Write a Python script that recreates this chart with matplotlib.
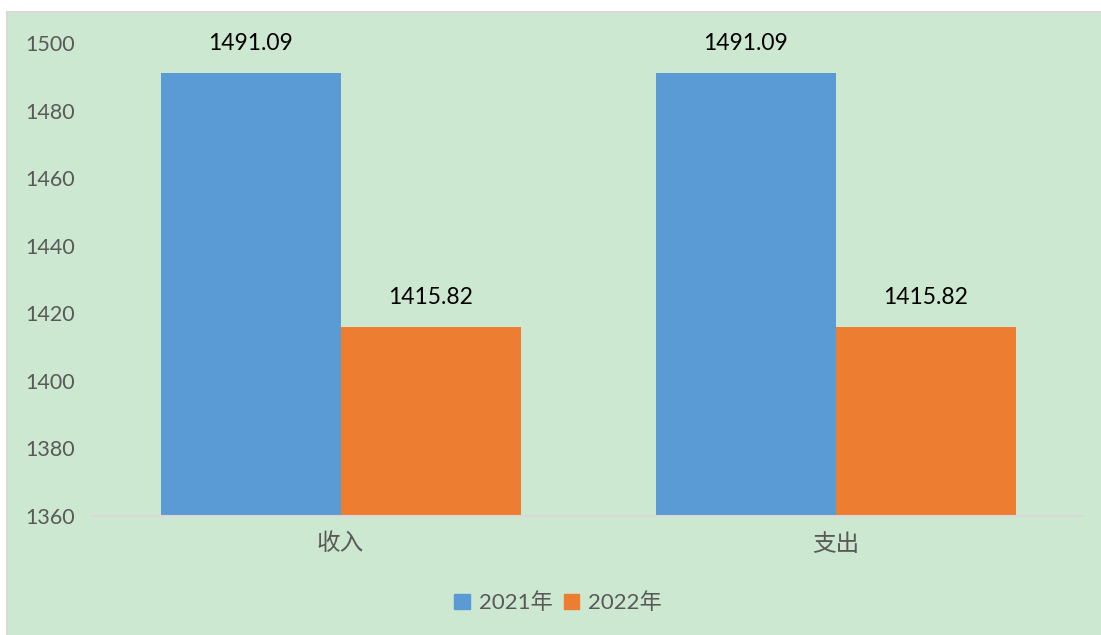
import matplotlib
matplotlib.use("Agg")
import matplotlib.pyplot as plt
from matplotlib.patches import Rectangle, Patch

categories = ["收入", "支出"]
series_names = ["2021年", "2022年"]
values_2021 = [1491.09, 1491.09]
values_2022 = [1415.82, 1415.82]
yticks = [1360, 1380, 1400, 1420, 1440, 1460, 1480, 1500]

plt.rcParams['font.family'] = ['Lato', 'Noto Sans CJK SC', 'DejaVu Sans']

W, H = 1101, 635
fig = plt.figure(figsize=(W / 100, H / 100), dpi=100, facecolor="white")
bg = "#cde8d0"
fig.patches.append(Rectangle((7 / W, -0.01), 1.01 - 7 / W, 1.01 - 12 / H, transform=fig.transFigure,
                             facecolor=bg, edgecolor="#d9d9d9", linewidth=1.5, zorder=-10))

ax = fig.add_axes([93 / W, (H - 516) / H, (1083 - 93) / W, (516 - 43) / H])
ax.set_facecolor("none")
ax.set_zorder(5)

x = list(range(len(categories)))
bw = 180 / 495
c1, c2 = "#5b9bd5", "#ed7d31"
b1 = ax.bar([i - bw / 2 for i in x], [v - 1360 for v in values_2021], bw, bottom=1360, color=c1, label=series_names[0])
b2 = ax.bar([i + bw / 2 for i in x], [v - 1360 for v in values_2022], bw, bottom=1360, color=c2, label=series_names[1])

for bars, vals in ((b1, values_2021), (b2, values_2022)):
    for r, v in zip(bars, vals):
        ax.annotate(f"{v:.2f}", (r.get_x() + r.get_width() / 2, v), xytext=(0, 14),
                    textcoords="offset points", ha="center", va="bottom", fontsize=16.5, color="black")

ax.set_xlim(-0.5, 1.5)
ax.set_ylim(1360, 1500)
ax.set_yticks(yticks)
ax.set_xticks(x)
ax.set_xticklabels(categories, fontsize=17, color="#595959")
ax.tick_params(axis="y", length=0, pad=13, labelsize=15.5, labelcolor="#595959")
ax.tick_params(axis="x", length=0, pad=12)
for s in ("top", "right", "left"):
    ax.spines[s].set_visible(False)
ax.spines["bottom"].set_color("#d9d9d9")
ax.spines["bottom"].set_linewidth(1.5)

handles = [Patch(color=c1), Patch(color=c2)]
fig.legend(handles, series_names, loc="center", bbox_to_anchor=(558 / W, 1 - 603 / H), ncol=2,
           frameon=False, fontsize=16, labelcolor="#595959", handlelength=0.7, handleheight=0.7,
           handletextpad=0.4, columnspacing=0.5)

fig.savefig("out.png", dpi=100, facecolor="white")
